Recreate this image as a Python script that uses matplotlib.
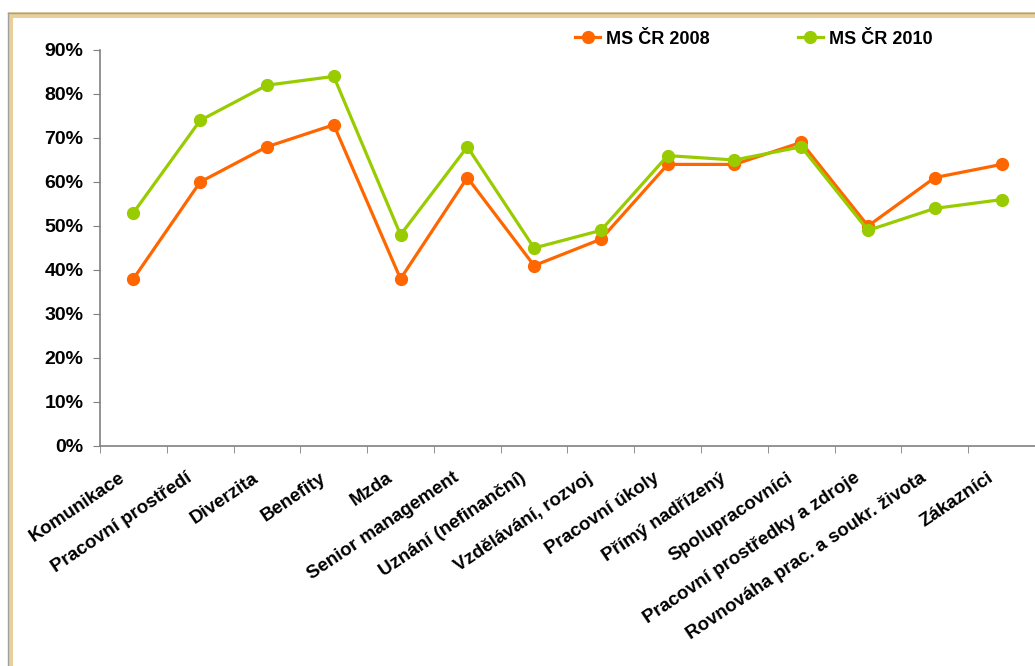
import numpy as np
import matplotlib.pyplot as plt
import matplotlib.transforms as mtransforms
from matplotlib.patches import Rectangle

categories = ["Komunikace", "Pracovní prostředí", "Diverzita", "Benefity", "Mzda",
              "Senior management", "Uznání (nefinanční)", "Vzdělávání, rozvoj",
              "Pracovní úkoly", "Přímý nadřízený", "Spolupracovníci",
              "Pracovní prostředky a zdroje", "Rovnováha prac. a soukr. života", "Zákazníci"]
ms_2008 = [38, 60, 68, 73, 38, 61, 41, 47, 64, 64, 69, 50, 61, 64]
ms_2010 = [53, 74, 82, 84, 48, 68, 45, 49, 66, 65, 68, 49, 54, 56]
yticks = [0, 10, 20, 30, 40, 50, 60, 70, 80, 90]

plt.rcParams['font.family'] = ['Liberation Sans', 'DejaVu Sans']
plt.rcParams['font.weight'] = 'bold'

W, H = 1035, 666
fig = plt.figure(figsize=(W / 100, H / 100), dpi=100)

# tan picture frame (top and left edges)
fig.patches.append(Rectangle((8 / W, 0), 5 / W, 1 - 12 / H, transform=fig.transFigure,
                             facecolor='#E8D09A', edgecolor='none', zorder=0))
fig.patches.append(Rectangle((8 / W, 1 - 18 / H), 1, 6 / H, transform=fig.transFigure,
                             facecolor='#E8D09A', edgecolor='none', zorder=0))
fig.lines.append(plt.Line2D([8 / W, 1], [1 - 12.5 / H] * 2, transform=fig.transFigure,
                            color='#A0A0A0', lw=1))
fig.lines.append(plt.Line2D([8 / W] * 2, [0, 1 - 12.5 / H], transform=fig.transFigure,
                            color='#A0A0A0', lw=1))

ax = fig.add_axes([100 / W, 1 - 446 / H, 935 / W, 396 / H])
x = np.arange(len(categories))
l1, = ax.plot(x, np.array(ms_2008) / 100, color='#FF6600', lw=2.3, marker='o',
              markersize=8.5, label='MS ČR 2008', zorder=3)
l2, = ax.plot(x, np.array(ms_2010) / 100, color='#99CC00', lw=2.3, marker='o',
              markersize=8.5, label='MS ČR 2010', zorder=3)

ax.set_xlim(-0.5, len(categories) - 0.5)
ax.set_ylim(0, 0.9)
ax.set_yticks([v / 100 for v in yticks])
ax.set_yticklabels([f"{v}%" for v in yticks])
ax.set_xticks(x)
ax.set_xticklabels(categories, rotation=34, ha='right', va='center',
                   rotation_mode='anchor')
ax.set_xticks(np.arange(-0.5, len(categories) + 0.5, 1), minor=True)
ax.tick_params(axis='x', which='major', length=0, pad=22, labelsize=13.5)
ax.tick_params(axis='x', which='minor', length=5, color='#808080', direction='out')
ax.tick_params(axis='y', length=5, color='#808080', pad=7, labelsize=14)
for s in ['top', 'right']:
    ax.spines[s].set_visible(False)
for s in ['left', 'bottom']:
    ax.spines[s].set_color('#808080')
    ax.spines[s].set_linewidth(1.2)

offset = mtransforms.ScaledTranslation(-0.10, 0, fig.dpi_scale_trans)
for lab in ax.get_xticklabels():
    lab.set_transform(lab.get_transform() + offset)
    lab.set_fontweight('bold')
for lab in ax.get_yticklabels():
    lab.set_fontweight('bold')

fig.legend(handles=[l1, l2], loc='center left', bbox_to_anchor=(566 / W, 1 - 39 / H),
           ncol=2, frameon=False, borderpad=0, handlelength=1.4, handletextpad=0.3,
           columnspacing=4.9, prop={'size': 13, 'weight': 'bold'})

fig.savefig('out.png', dpi=100, facecolor='white')
